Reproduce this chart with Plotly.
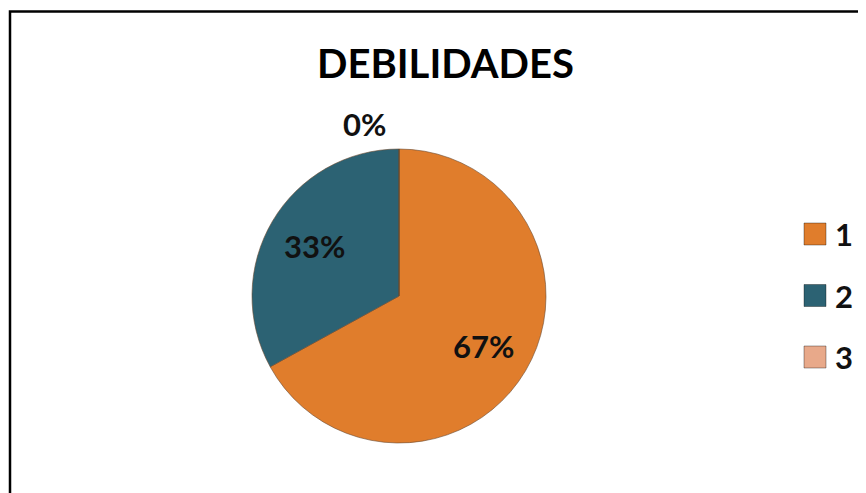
import math
import plotly.graph_objects as go

categories = ["1", "2", "3"]
values = [67, 33, 0]
colors = ["#E07D2C", "#2C6273", "#E8A98A"]
title_text = "DEBILIDADES"

# the page body adds an 8px margin; figure is sized to fill the rest of the window
OFF = 8
W, H = 866 - OFF, 493 - OFF


def px(x):
    return (x - OFF) / W


def py(y):
    return 1 - (y - OFF) / H


cx, cy, R = 399, 296, 147

fig = go.Figure()
fig.add_trace(go.Pie(
    labels=categories,
    values=values,
    sort=False,
    direction="clockwise",
    rotation=0,
    marker=dict(colors=colors, line=dict(color="#6a4a30", width=0.6)),
    textinfo="none",
    showlegend=False,
    hoverinfo="skip",
    automargin=False,
    domain=dict(x=[px(cx - R), px(cx + R)], y=[py(cy + R), py(cy - R)]),
))

label_font = dict(family="Lato", size=31, color="#111111", weight="bold")
annotations = []
total = sum(values)
cum = 0.0
for v in values:
    frac = v / total
    pct = f"{round(frac * 100)}%"
    if v > 0:
        mid = (cum + frac / 2) * 2 * math.pi
        r = 0.67 * R
        x = cx + r * math.sin(mid)
        y = cy - r * math.cos(mid)
    else:
        mid = cum * 2 * math.pi
        r = R + 24
        x = cx + r * math.sin(mid) - 34
        y = cy - r * math.cos(mid) - 1
    annotations.append(dict(text=pct, xref="paper", yref="paper", x=px(x), y=py(y),
                            xanchor="center", yanchor="middle", showarrow=False, font=label_font))
    cum += frac

# manual legend
leg_x = 815
leg_y0 = 234
leg_dy = 61.5
shapes = [dict(type="rect", xref="paper", yref="paper", x0=px(10), x1=1.02, y0=-0.02, y1=py(11.5),
               line=dict(color="black", width=2.5), fillcolor="rgba(0,0,0,0)", layer="above")]
for i, (cat, col) in enumerate(zip(categories, colors)):
    y = leg_y0 + i * leg_dy
    shapes.append(dict(type="rect", xref="paper", yref="paper",
                       x0=px(leg_x - 11), x1=px(leg_x + 11),
                       y0=py(y + 11), y1=py(y - 11),
                       fillcolor=col, line=dict(color="rgba(0,0,0,0.35)", width=1)))
    annotations.append(dict(text=cat, xref="paper", yref="paper", x=px(leg_x + 18), y=py(y),
                            xanchor="left", yanchor="middle", showarrow=False, font=label_font))

annotations.append(dict(text=title_text, xref="paper", yref="paper", x=px(445), y=py(63),
                        xanchor="center", yanchor="middle", showarrow=False,
                        font=dict(family="Lato", size=40, color="#000000", weight="bold")))

fig.update_layout(
    width=W, height=H,
    margin=dict(l=0, r=0, t=0, b=0),
    paper_bgcolor="white",
    plot_bgcolor="white",
    shapes=shapes,
    annotations=annotations,
)

fig.write_html("out.html")
